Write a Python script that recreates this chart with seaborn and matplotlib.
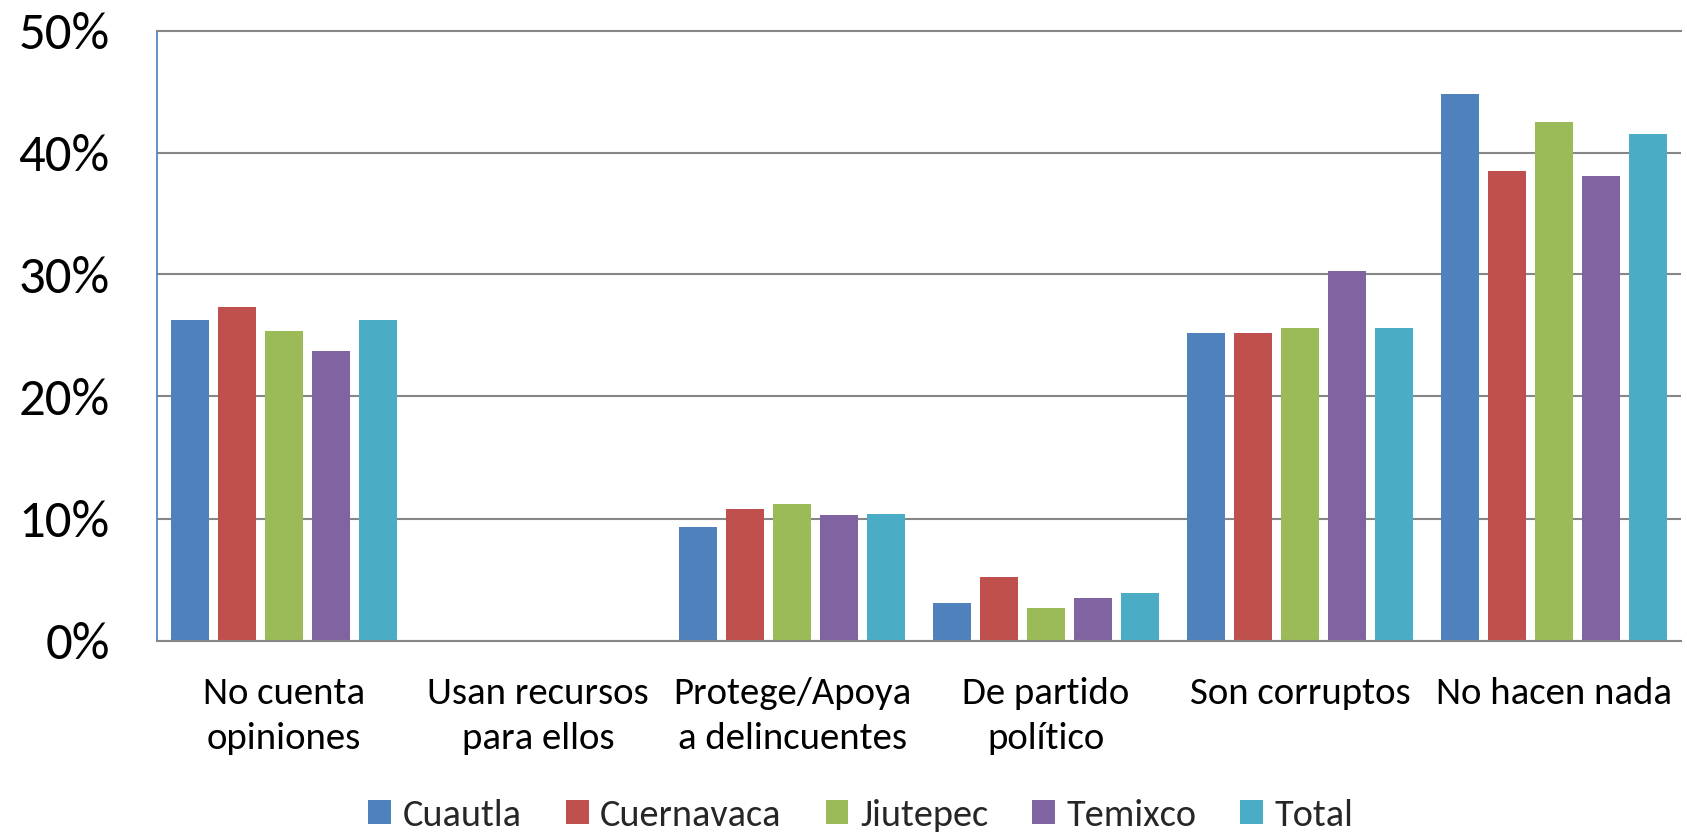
import matplotlib
matplotlib.use("Agg")
import matplotlib.pyplot as plt
import seaborn as sns
import pandas as pd
from matplotlib.ticker import PercentFormatter, MultipleLocator

categories = ["No cuenta\nopiniones", "Usan recursos\npara ellos", "Protege/Apoya\na delincuentes",
              "De partido\npolítico", "Son corruptos", "No hacen nada"]
series_names = ["Cuautla", "Cuernavaca", "Jiutepec", "Temixco", "Total"]
cuautla = [26.3, 0.0, 9.3, 3.1, 25.2, 44.8]
cuernavaca = [27.3, 0.0, 10.8, 5.2, 25.2, 38.5]
jiutepec = [25.4, 0.0, 11.2, 2.7, 25.6, 42.5]
temixco = [23.7, 0.0, 10.3, 3.5, 30.3, 38.1]
total = [26.3, 0.0, 10.4, 3.9, 25.6, 41.5]
colors = ["#4F81BD", "#C0504D", "#9BBB59", "#8064A2", "#4BACC6"]

values = [cuautla, cuernavaca, jiutepec, temixco, total]
rows = []
for name, vals in zip(series_names, values):
    for cat, v in zip(categories, vals):
        rows.append({"cat": cat, "serie": name, "val": v / 100.0})
df = pd.DataFrame(rows)

sns.set_theme(style="white")
plt.rcParams["font.family"] = ["Carlito", "Lato", "DejaVu Sans"]

fig = plt.figure(figsize=(16.87, 8.32), dpi=100)
ax = fig.add_axes([157 / 1687, 1 - 640.5 / 832, (1681 - 157) / 1687, (640.5 - 30.5) / 832])

sns.barplot(data=df, x="cat", y="val", hue="serie", order=categories, hue_order=series_names,
            palette=colors, saturation=1, width=0.925, gap=0.2, linewidth=0, errorbar=None, ax=ax)

ax.set_ylim(0, 0.5)
ax.set_xlim(-0.5, len(categories) - 0.5)
ax.yaxis.set_major_locator(MultipleLocator(0.1))
ax.yaxis.set_major_formatter(PercentFormatter(1.0, decimals=0))
ax.grid(axis="y", color="#868686", linewidth=1.5)
ax.set_axisbelow(True)
ax.spines["right"].set_visible(False)
ax.spines["top"].set_color("#868686")
ax.spines["top"].set_linewidth(1.5)
ax.spines["left"].set_color("#4A7EBB")
ax.spines["left"].set_linewidth(1.2)
ax.spines["bottom"].set_color("#868686")
ax.spines["bottom"].set_linewidth(1.5)
ax.tick_params(axis="y", length=0, pad=34, labelsize=38, labelcolor="black")
ax.tick_params(axis="x", length=0, pad=26, labelsize=28, labelcolor="black")
ax.set_xticks(range(len(categories)))
ax.set_xticklabels(categories, linespacing=1.45)
ax.set_xlabel("")
ax.set_ylabel("")

handles, labels = ax.get_legend_handles_labels()
ax.legend(handles, labels, loc="center", bbox_to_anchor=(861 / 1687, 17 / 832),
          bbox_transform=fig.transFigure, ncol=5, frameon=False, fontsize=27.5,
          handlelength=0.6, handleheight=0.6, handletextpad=0.3, columnspacing=1.15)

fig.savefig("out.png", dpi=100)
